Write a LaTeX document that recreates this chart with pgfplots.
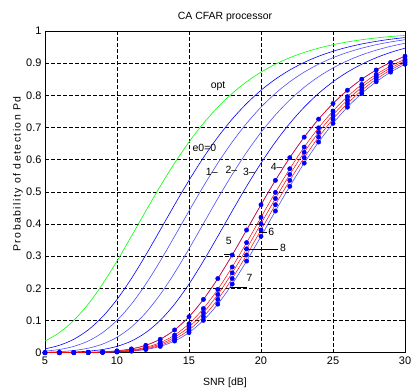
\documentclass[border=0pt]{standalone}
\usepackage{fontspec}
\setmainfont{Liberation Sans}
\usepackage{pgfplots}
\usepackage{pgfplotstable}
\pgfplotsset{compat=1.18}

\pgfplotstableread{
S  opt    b0     b1     b2     b3     d1     d2     d3     d4     d5
5  0.0362 0.0118 0.0048 0.0015 0.0005 0.0001 0.0001 0.0001 0.0001 0.0001
6  0.0625 0.0230 0.0099 0.0033 0.0010 0.0003 0.0002 0.0001 0.0001 0.0001
7  0.1005 0.0417 0.0196 0.0069 0.0022 0.0006 0.0004 0.0003 0.0003 0.0002
8  0.1510 0.0708 0.0362 0.0140 0.0048 0.0012 0.0008 0.0007 0.0006 0.0005
9  0.2133 0.1119 0.0625 0.0268 0.0099 0.0027 0.0018 0.0015 0.0012 0.0010
10 0.2848 0.1656 0.1005 0.0479 0.0196 0.0058 0.0040 0.0033 0.0027 0.0022
11 0.3618 0.2305 0.1510 0.0799 0.0362 0.0118 0.0083 0.0069 0.0058 0.0048
12 0.4404 0.3037 0.2133 0.1242 0.0625 0.0230 0.0166 0.0140 0.0118 0.0099
13 0.5172 0.3814 0.2848 0.1809 0.1005 0.0417 0.0312 0.0268 0.0230 0.0196
14 0.5893 0.4599 0.3618 0.2482 0.1510 0.0708 0.0548 0.0479 0.0417 0.0362
15 0.6548 0.5357 0.4404 0.3228 0.2133 0.1119 0.0898 0.0799 0.0708 0.0625
16 0.7128 0.6063 0.5172 0.4011 0.2848 0.1656 0.1372 0.1242 0.1119 0.1005
17 0.7632 0.6700 0.5893 0.4793 0.3618 0.2305 0.1968 0.1809 0.1656 0.1510
18 0.8061 0.7261 0.6548 0.5539 0.4404 0.3037 0.2663 0.2482 0.2305 0.2133
19 0.8422 0.7746 0.7128 0.6229 0.5172 0.3814 0.3422 0.3228 0.3037 0.2848
20 0.8722 0.8157 0.7632 0.6848 0.5893 0.4599 0.4208 0.4011 0.3814 0.3618
21 0.8968 0.8502 0.8061 0.7390 0.6548 0.5357 0.4983 0.4793 0.4599 0.4404
22 0.9170 0.8788 0.8422 0.7855 0.7128 0.6063 0.5718 0.5539 0.5357 0.5172
23 0.9334 0.9023 0.8722 0.8250 0.7632 0.6700 0.6391 0.6229 0.6063 0.5893
24 0.9467 0.9215 0.8968 0.8579 0.8061 0.7261 0.6990 0.6848 0.6700 0.6548
25 0.9574 0.9370 0.9170 0.8851 0.8422 0.7746 0.7513 0.7390 0.7261 0.7128
26 0.9660 0.9496 0.9334 0.9074 0.8722 0.8157 0.7960 0.7855 0.7746 0.7632
27 0.9729 0.9597 0.9467 0.9257 0.8968 0.8502 0.8338 0.8250 0.8157 0.8061
28 0.9784 0.9678 0.9574 0.9404 0.9170 0.8788 0.8652 0.8579 0.8502 0.8422
29 0.9828 0.9744 0.9660 0.9523 0.9334 0.9023 0.8911 0.8851 0.8788 0.8722
30 0.9863 0.9796 0.9729 0.9619 0.9467 0.9215 0.9124 0.9074 0.9023 0.8968
}\pdtable

\newcommand{\lbl}{\fontsize{10.5}{12}\selectfont}
\newcommand{\tkl}{\fontsize{11}{12}\selectfont}

\begin{document}
\begin{tikzpicture}
\begin{axis}[
  scale only axis,
  width=360bp, height=321.7bp,
  xmin=5, xmax=30, ymin=0, ymax=1,
  xtick={5,10,15,20,25,30},
  ytick={0,0.1,0.2,0.3,0.4,0.5,0.6,0.7,0.8,0.9,1},
  /pgf/number format/assume math mode=true,
  yticklabel style={/pgf/number format/fixed,/pgf/number format/precision=1},
  tick label style={font=\tkl},
  xticklabel style={yshift=-1bp},
  tick align=inside,
  major tick length=4bp,
  tick style={black, line width=0.5bp},
  grid=major,
  major grid style={black, line width=0.5bp, dash pattern=on 3.5bp off 2.5bp},
  axis line style={black, line width=0.6bp},
  clip=false,
]
\coordinate (SW) at (rel axis cs:0,0);
\coordinate (NE) at (rel axis cs:1,1);
\coordinate (NW) at (rel axis cs:0,1);

\addplot[green, line width=0.6bp, smooth] table[x=S,y=opt] {\pdtable};
\addplot[blue, line width=0.6bp, smooth] table[x=S,y=b0] {\pdtable};
\addplot[blue!70, line width=0.6bp, smooth] table[x=S,y=b1] {\pdtable};
\addplot[blue!70, line width=0.6bp, smooth] table[x=S,y=b2] {\pdtable};
\addplot[blue, line width=0.6bp, smooth] table[x=S,y=b3] {\pdtable};
\addplot[blue!70, line width=0.6bp, smooth] table[x=S,y=d1] {\pdtable};
\addplot[blue!70, line width=0.6bp, smooth] table[x=S,y=d5] {\pdtable};
\addplot[red, line width=0.5bp, smooth] table[x=S,y=d1] {\pdtable};
\addplot[red, line width=0.5bp, smooth] table[x=S,y=d2] {\pdtable};
\addplot[red, line width=0.5bp, smooth] table[x=S,y=d3] {\pdtable};
\addplot[red, line width=0.5bp, smooth] table[x=S,y=d4] {\pdtable};
\foreach \c in {d1,d2,d3,d4,d5}{
  \addplot[only marks, mark=*, mark size=2.2bp, blue, mark options={fill=blue, draw=blue}] table[x=S,y=\c] {\pdtable};
}

\node[font=\lbl] at (axis cs:17.02,0.829) {opt};
\node[font=\lbl] at (axis cs:16.07,0.636) {e0=0};
\node[font=\lbl] at (axis cs:16.58,0.562) {1–};
\node[font=\lbl] at (axis cs:17.94,0.568) {2–};
\node[font=\lbl] at (axis cs:19.17,0.562) {3–};
\node[font=\lbl] at (axis cs:21.09,0.577) {4–};
\node[font=\lbl] at (axis cs:17.77,0.347) {5};
\draw[black, line width=0.5bp] (axis cs:17.43,0.307) -- (axis cs:17.98,0.307);
\node[font=\lbl] at (axis cs:20.71,0.377) {6};
\draw[black, line width=0.5bp] (axis cs:19.89,0.375) -- (axis cs:20.45,0.375);
\node[font=\lbl] at (axis cs:21.53,0.325) {8};
\draw[black, line width=0.5bp] (axis cs:18.80,0.321) -- (axis cs:21.15,0.321);
\node[font=\lbl] at (axis cs:19.21,0.232) {7};
\draw[black, line width=0.5bp] (axis cs:17.84,0.203) -- (axis cs:19.05,0.203);
\end{axis}

\node[font=\lbl, anchor=base] at ([xshift=180bp,yshift=11bp]NW) {CA CFAR processor};
\node[font=\lbl, anchor=base] at ([xshift=180bp,yshift=-32.3bp]SW) {SNR [dB]};
\node[font=\lbl\addfontfeature{LetterSpace=14}, anchor=base, rotate=90] at ([xshift=-24.5bp,yshift=178.7bp]SW) {Probability of detection Pd};

\pgfresetboundingbox
\path[use as bounding box] ([xshift=-45bp,yshift=-37.3bp]SW) rectangle ([xshift=10bp,yshift=31bp]NE);
\end{tikzpicture}
\end{document}
